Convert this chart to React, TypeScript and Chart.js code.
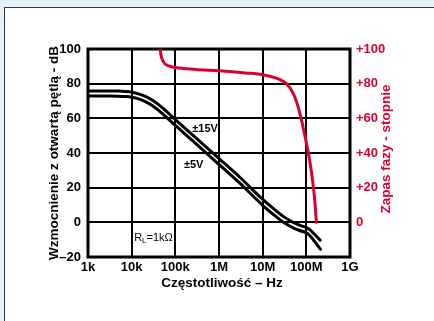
import React, { useEffect, useRef } from 'react';
import { Chart, registerables } from 'chart.js';

Chart.register(...registerables);

// ---- axis ticks ----
const xTickValues = [1e3, 1e4, 1e5, 1e6, 1e7, 1e8, 1e9];
const xTickLabels = ['1k', '10k', '100k', '1M', '10M', '100M', '1G'];
const yTickValues = [-20, 0, 20, 40, 60, 80, 100];
const yTickLabels = ['–20', '0', '20', '40', '60', '80', '100'];
const y2TickValues = [0, 20, 40, 60, 80, 100];
const y2TickLabels = ['0', '+20', '+40', '+60', '+80', '+100'];

// ---- series: open-loop gain ±15V ----
const gain15Freq = [1e3, 3e3, 5e3, 7e3, 1e4, 1.5e4, 2e4, 3e4, 5e4, 1e5, 3e5, 1e6, 3e6, 1e7, 2e7, 3e7, 5e7, 7e7, 1e8, 1.2e8, 1.5e8, 2.07e8];
const gain15Db = [75.8, 75.8, 75.7, 75.5, 75.1, 74, 72.8, 70.4, 66.2, 59.3, 48.6, 36.8, 26, 13.2, 6.8, 3.3, 0, -1.6, -3, -4.2, -6.6, -10.3];

// ---- series: open-loop gain ±5V ----
const gain5Freq = [1e3, 3e3, 5e3, 7e3, 1e4, 1.5e4, 2e4, 3e4, 5e4, 1e5, 3e5, 1e6, 3e6, 1e7, 2e7, 3e7, 5e7, 7e7, 1e8, 1.2e8, 1.5e8, 2.1e8];
const gain5Db = [72.9, 72.9, 72.8, 72.6, 72.2, 71.1, 69.8, 67.3, 62.9, 55.9, 45.2, 33.4, 22.6, 9.8, 3.4, 0, -3.2, -4.7, -6.1, -7.6, -10.6, -15.5];

// ---- series: phase margin (degrees) ----
const phaseFreq = [4.5e4, 4.65e4, 5e4, 5.8e4, 7e4, 1e5, 3e5, 1e6, 4e6, 1e7, 2e7, 3e7, 3.5e7, 4.5e7, 5.5e7, 6.5e7, 7.5e7, 8.5e7, 1e8, 1.15e8, 1.3e8, 1.45e8, 1.58e8, 1.7e8];
const phaseDeg = [100, 97, 94, 91.5, 90.3, 89.3, 88.2, 87.4, 86.2, 85.2, 83.3, 81.3, 80, 76.5, 72, 66.5, 60.5, 54.5, 46, 38, 29.5, 20.5, 11, 0];

// ---- labels ----
const leftTitle = 'Wzmocnienie z otwartą pętlą - dB';
const rightTitle = 'Zapas fazy - stopnie';
const bottomTitle = 'Częstotliwość – Hz';
const label15 = '±15V';
const label5 = '±5V';

const RED = '#dc0030';
const FONT = "'Liberation Sans', Arial, Helvetica, sans-serif";

const toPts = (fs: number[], vs: number[]) => fs.map((f, i) => ({ x: f, y: vs[i] }));
const lookup = (vals: number[], labels: string[]) => (v: any) => {
  const i = vals.indexOf(Number(v));
  return i >= 0 ? labels[i] : '';
};

const decor = {
  id: 'decor',
  beforeDatasetsDraw(chart: any) {
    const { ctx, chartArea: a } = chart;
    ctx.save();
    ctx.strokeStyle = '#000';
    ctx.lineWidth = 3;
    ctx.strokeRect(a.left, a.top, a.right - a.left, a.bottom - a.top);
    ctx.restore();
  },
  afterDraw(chart: any) {
    const { ctx } = chart;
    const xs = chart.scales.x;
    const ys = chart.scales.y;
    ctx.save();
    ctx.textBaseline = 'middle';
    ctx.textAlign = 'center';
    // axis titles
    ctx.font = `bold 13.5px ${FONT}`;
    ctx.fillStyle = '#000';
    ctx.fillText(bottomTitle, 222, 283);
    ctx.save();
    ctx.translate(54, 153);
    ctx.rotate(-Math.PI / 2);
    ctx.fillText(leftTitle, 0, 0);
    ctx.restore();
    ctx.save();
    ctx.fillStyle = RED;
    ctx.translate(386.5, 149);
    ctx.rotate(-Math.PI / 2);
    ctx.fillText(rightTitle, 0, 0);
    ctx.restore();
    // curve labels
    ctx.textAlign = 'left';
    ctx.fillStyle = '#000';
    ctx.font = `bold 11px ${FONT}`;
    ctx.fillText(label15, xs.getPixelForValue(2.45e5), ys.getPixelForValue(53.9));
    ctx.fillText(label5, xs.getPixelForValue(1.57e5), ys.getPixelForValue(33.2));
    // R_L = 1kΩ
    let px = xs.getPixelForValue(1.14e4);
    const py = ys.getPixelForValue(-8.9);
    ctx.font = `11px ${FONT}`;
    ctx.fillText('R', px, py);
    px += ctx.measureText('R').width;
    ctx.font = `8px ${FONT}`;
    ctx.fillText('L', px, py + 3);
    px += ctx.measureText('L').width;
    ctx.font = `11px ${FONT}`;
    ctx.fillText('=1kΩ', px, py);
    ctx.restore();
  },
};

export default function App() {
  const ref = useRef<HTMLCanvasElement>(null);
  useEffect(() => {
    const canvas = ref.current;
    if (!canvas) return;
    const tickFont = { family: FONT, size: 13, weight: 'bold' as const };
    const chart = new Chart(canvas, {
      type: 'line',
      data: {
        datasets: [
          {
            data: toPts(gain15Freq, gain15Db),
            borderColor: '#000',
            borderWidth: 3,
            pointRadius: 0,
            cubicInterpolationMode: 'monotone',
            yAxisID: 'y',
          },
          {
            data: toPts(gain5Freq, gain5Db),
            borderColor: '#000',
            borderWidth: 3,
            pointRadius: 0,
            cubicInterpolationMode: 'monotone',
            yAxisID: 'y',
          },
          {
            data: toPts(phaseFreq, phaseDeg),
            borderColor: RED,
            borderWidth: 3,
            pointRadius: 0,
            cubicInterpolationMode: 'monotone',
            yAxisID: 'y2',
          },
        ],
      },
      options: {
        responsive: false,
        animation: false,
        devicePixelRatio: 1,
        layout: { padding: { top: 49, left: 0, right: 0, bottom: 0 } },
        plugins: { legend: { display: false }, tooltip: { enabled: false } },
        elements: { line: { borderCapStyle: 'round', borderJoinStyle: 'round' } },
        scales: {
          x: {
            type: 'logarithmic',
            min: 1e3,
            max: 1e9,
            afterBuildTicks: (s: any) => {
              s.ticks = xTickValues.map((v) => ({ value: v }));
            },
            afterFit: (s: any) => {
              s.height = 64;
            },
            ticks: {
              callback: lookup(xTickValues, xTickLabels),
              font: tickFont,
              color: '#000',
              padding: 3,
              maxRotation: 0,
              autoSkip: false,
            },
            grid: { color: '#000', lineWidth: 2, drawTicks: false },
            border: { display: false },
          },
          y: {
            type: 'linear',
            position: 'left',
            min: -20,
            max: 100,
            afterBuildTicks: (s: any) => {
              s.ticks = yTickValues.map((v) => ({ value: v }));
            },
            afterFit: (s: any) => {
              s.width = 88;
            },
            ticks: {
              callback: lookup(yTickValues, yTickLabels),
              font: tickFont,
              color: '#000',
              padding: 7,
            },
            grid: { color: '#000', lineWidth: 2, drawTicks: false },
            border: { display: false },
          },
          y2: {
            type: 'linear',
            position: 'right',
            min: -20,
            max: 100,
            afterBuildTicks: (s: any) => {
              s.ticks = y2TickValues.map((v) => ({ value: v }));
            },
            afterFit: (s: any) => {
              s.width = 84;
            },
            ticks: {
              callback: lookup(y2TickValues, y2TickLabels),
              font: tickFont,
              color: RED,
              padding: 6,
            },
            grid: { display: false, drawTicks: false },
            border: { display: false },
          },
        },
      },
      plugins: [decor],
    } as any);
    return () => chart.destroy();
  }, []);

  return (
    <div
      style={{
        position: 'fixed',
        left: 0,
        top: 0,
        width: 434,
        height: 321,
        overflow: 'hidden',
        background: '#e4f0fa',
      }}
    >
      <div
        style={{
          position: 'absolute',
          left: 4,
          top: 7,
          width: 460,
          height: 340,
          background: '#fff',
          border: '1px solid #3a3a3a',
        }}
      />
      <canvas
        ref={ref}
        width={434}
        height={321}
        style={{ position: 'absolute', left: 0, top: 0, width: 434, height: 321 }}
      />
    </div>
  );
}
